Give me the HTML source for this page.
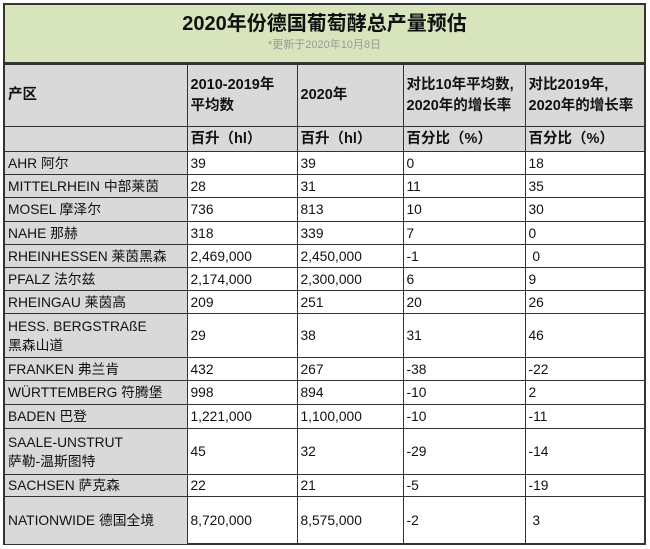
<!DOCTYPE html>
<html><head><meta charset="utf-8"><style>
body{margin:0;background:#fff;width:650px;height:549px;overflow:hidden;font-family:"Liberation Sans","Noto Sans CJK SC",sans-serif;}
.wrap{position:absolute;left:3px;top:3px;width:643px;height:542px;border:2px solid #333;box-sizing:border-box;}
.title{height:59px;background:#d8e4bc;border-bottom:2px solid #333;text-align:center;box-sizing:border-box;}
.title .t{font-size:20px;font-weight:bold;color:#111;padding-top:7px;line-height:25px;}
.title .s{font-size:11px;color:#999;line-height:16px;}
table{border-collapse:collapse;table-layout:fixed;width:639px;}
td{border:1.5px solid #333;font-size:13.8px;color:#111;padding:0 3px;vertical-align:middle;line-height:19px;white-space:nowrap;}
tr td:first-child{background:#d9d9d9;border-left:none;}
tr td:last-child{border-right:none;}
tr:last-child td{border-bottom:none;}
.h td{background:#d9d9d9;font-weight:bold;font-size:14.5px;line-height:21px;}
</style></head><body>
<div class="wrap">
<div class="title"><div class="t">2020年份德国葡萄酵总产量预估</div><div class="s">*更新于2020年10月8日</div></div>
<table>
<colgroup><col style="width:182px"><col style="width:110px"><col style="width:106px"><col style="width:122px"><col style="width:119px"></colgroup>
<tr class="h" style="height:62px"><td>产区</td><td>2010-2019年<br>平均数</td><td>2020年</td><td>对比10年平均数,<br>2020年的增长率</td><td>对比2019年,<br>2020年的增长率</td></tr>
<tr class="h" style="height:25px"><td></td><td>百升（hl）</td><td>百升（hl）</td><td>百分比（%）</td><td>百分比（%）</td></tr>
<tr style="height:23px"><td>AHR 阿尔</td><td>39</td><td>39</td><td>0</td><td>18</td></tr>
<tr style="height:23px"><td>MITTELRHEIN 中部莱茵</td><td>28</td><td>31</td><td>11</td><td>35</td></tr>
<tr style="height:24px"><td>MOSEL 摩泽尔</td><td>736</td><td>813</td><td>10</td><td>30</td></tr>
<tr style="height:23px"><td>NAHE 那赫</td><td>318</td><td>339</td><td>7</td><td>0</td></tr>
<tr style="height:23px"><td>RHEINHESSEN 莱茵黑森</td><td>2,469,000</td><td>2,450,000</td><td>-1</td><td>&nbsp;0</td></tr>
<tr style="height:23px"><td>PFALZ 法尔兹</td><td>2,174,000</td><td>2,300,000</td><td>6</td><td>9</td></tr>
<tr style="height:23px"><td>RHEINGAU 莱茵高</td><td>209</td><td>251</td><td>20</td><td>26</td></tr>
<tr style="height:44px"><td>HESS. BERGSTRAßE<br>黑森山道</td><td>29</td><td>38</td><td>31</td><td>46</td></tr>
<tr style="height:23px"><td>FRANKEN 弗兰肯</td><td>432</td><td>267</td><td>-38</td><td>-22</td></tr>
<tr style="height:24px"><td>WÜRTTEMBERG 符腾堡</td><td>998</td><td>894</td><td>-10</td><td>2</td></tr>
<tr style="height:24px"><td>BADEN 巴登</td><td>1,221,000</td><td>1,100,000</td><td>-10</td><td>-11</td></tr>
<tr style="height:46px"><td>SAALE-UNSTRUT<br>萨勒-温斯图特</td><td>45</td><td>32</td><td>-29</td><td>-14</td></tr>
<tr style="height:22px"><td>SACHSEN 萨克森</td><td>22</td><td>21</td><td>-5</td><td>-19</td></tr>
<tr style="height:47px"><td>NATIONWIDE 德国全境</td><td>8,720,000</td><td>8,575,000</td><td>-2</td><td>&nbsp;3</td></tr>
</table>
</div>
</body></html>
